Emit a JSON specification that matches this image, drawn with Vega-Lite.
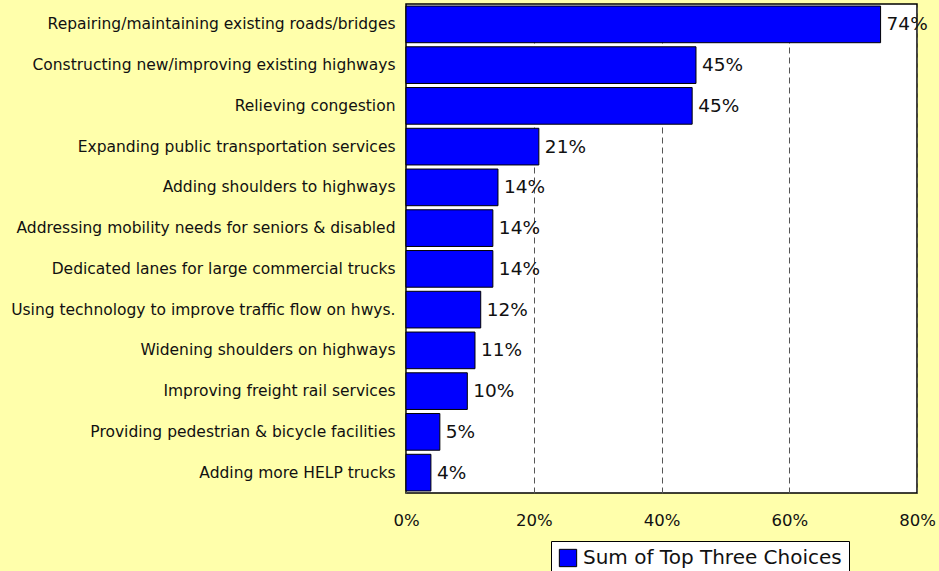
{
  "$schema": "https://vega.github.io/schema/vega-lite/v6.json",
  "width": 511,
  "height": 489,
  "autosize": {"type": "none"},
  "padding": {"left": 406, "top": 4, "right": 22, "bottom": 78},
  "background": "#FFFFAB",
  "config": {
    "view": {"fill": "white", "stroke": "black", "strokeWidth": 1.5},
    "font": "DejaVu Sans"
  },
  "data": {
    "values": [
      {"item": "Repairing/maintaining existing roads/bridges", "value": 0.743, "series": "Sum of Top Three Choices"},
      {"item": "Constructing new/improving existing highways", "value": 0.454, "series": "Sum of Top Three Choices"},
      {"item": "Relieving congestion", "value": 0.448, "series": "Sum of Top Three Choices"},
      {"item": "Expanding public transportation services", "value": 0.208, "series": "Sum of Top Three Choices"},
      {"item": "Adding shoulders to highways ", "value": 0.144, "series": "Sum of Top Three Choices"},
      {"item": "Addressing mobility needs for seniors & disabled", "value": 0.136, "series": "Sum of Top Three Choices"},
      {"item": "Dedicated lanes for large commercial trucks ", "value": 0.136, "series": "Sum of Top Three Choices"},
      {"item": "Using technology to improve traffic flow on hwys.", "value": 0.117, "series": "Sum of Top Three Choices"},
      {"item": "Widening shoulders on highways", "value": 0.108, "series": "Sum of Top Three Choices"},
      {"item": "Improving freight rail services", "value": 0.096, "series": "Sum of Top Three Choices"},
      {"item": "Providing pedestrian & bicycle facilities", "value": 0.053, "series": "Sum of Top Three Choices"},
      {"item": "Adding more HELP trucks ", "value": 0.039, "series": "Sum of Top Three Choices"}
    ]
  },
  "encoding": {
    "y": {
      "field": "item", "type": "nominal", "sort": null,
      "scale": {"paddingInner": 0.1, "paddingOuter": 0.05},
      "axis": {"title": null, "domain": false, "ticks": false, "labelFontSize": 15.5, "labelColor": "#111", "labelPadding": 11, "labelLimit": 420, "grid": false}
    },
    "x": {
      "field": "value", "type": "quantitative",
      "scale": {"domain": [0, 0.8], "nice": false},
      "axis": {"title": null, "format": ".0%", "values": [0, 0.2, 0.4, 0.6, 0.8], "domain": false, "ticks": false, "labelFontSize": 16.5, "labelColor": "#111", "labelPadding": 19, "grid": true, "gridColor": "#555", "gridDash": [6, 4], "gridWidth": 1, "labelFlush": false}
    }
  },
  "layer": [
    {
      "mark": {"type": "bar", "stroke": "black", "strokeWidth": 1},
      "encoding": {
        "color": {
          "field": "series", "type": "nominal",
          "scale": {"range": ["#0000FF"]},
          "legend": {
            "title": null, "orient": "none", "legendX": 145, "legendY": 537,
            "symbolType": "square", "symbolSize": 300, "symbolStrokeColor": "black", "symbolStrokeWidth": 1,
            "labelFontSize": 20, "labelColor": "#111", "labelLimit": 400, "labelOffset": 5,
            "fillColor": "white", "strokeColor": "black", "padding": 7
          }
        }
      }
    },
    {
      "mark": {"type": "text", "align": "left", "baseline": "middle", "dx": 6, "fontSize": 18.5, "color": "#111"},
      "encoding": {"text": {"field": "value", "type": "quantitative", "format": ".0%"}}
    }
  ]
}
